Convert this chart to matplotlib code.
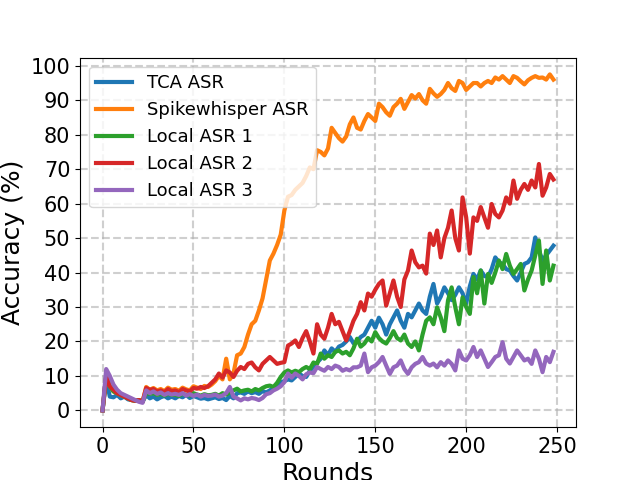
import numpy as np
import matplotlib
matplotlib.use('Agg')
import matplotlib.pyplot as plt

rounds = np.arange(0, 250, 2)

tca_asr = [
    0, 9, 4, 3.8, 4.5, 3.5, 4, 3.2, 3, 2.8,
    3, 2.5, 4.5, 3.5, 4, 3.2, 3.8, 4.2, 3.5, 4,
    3.5, 4.2, 3.8, 4.5, 3.6, 4.2, 3.8, 3.4, 3.6, 3.2,
    3.5, 3.8, 3.3, 3.6, 3, 4.2, 3.5, 5, 5.2, 4.8,
    5.5, 5, 5.3, 4.8, 5.6, 5.2, 5.8, 6.5, 7.5, 8.2,
    8.5, 9, 8.7, 9.7, 10.7, 10, 9.7, 11.5, 12.6, 13.9,
    15, 17.4, 16, 18, 17, 18.5, 19, 20, 21.3, 19.5,
    20, 21.3, 22, 24, 26, 24, 26.9, 25, 22, 25,
    27, 29, 26, 24, 28, 27, 29, 31, 29, 28,
    33, 36.7, 31, 33, 35.7, 34, 32, 33.5, 35.7, 34,
    31, 36, 39.6, 38, 40.6, 39, 38.7, 41, 44.4, 43,
    42.5, 41, 40.6, 39, 37.7, 40, 42.5, 43, 44.4, 50.2,
    46.4, 43.5, 45, 46.4, 47.8,
]

spike_asr = [
    0, 10, 7, 5.5, 5, 4.5, 4, 3.5, 3, 2.8,
    3, 2.5, 6.8, 6, 6.5, 5.8, 6.2, 5.6, 6.6, 6,
    6.2, 5.7, 6.6, 6.1, 5.8, 7, 6.6, 6.2, 7.1, 6.8,
    7.5, 8.5, 10, 9, 15, 9, 10.7, 16, 16.5, 18.4,
    22, 25, 26, 29, 32.5, 38, 43.5, 45.5, 48, 51,
    58, 62, 62.5, 64, 65, 66, 68, 70.5, 70, 75.5,
    75, 74, 76, 82, 80.5, 79, 78, 79.5, 83, 85,
    82, 81.5, 84, 86, 85, 84, 89, 88, 86.5, 85.5,
    88, 89, 90.4, 87.5, 89.5, 91.5, 90.5, 91.8, 90, 89,
    93.3, 92, 91, 91.8, 93, 95, 93.5, 92.7, 95.6, 95,
    93, 94, 95, 95, 94, 95, 95.6, 95, 96.6, 96,
    97, 96, 95, 97, 96.5, 95.5, 94.6, 95.8, 96.5, 97,
    96.5, 96.6, 96, 97.5, 96,
]

local_asr_1 = [
    0, 10, 7, 5.5, 5, 4.5, 4, 3.5, 3, 2.8,
    3, 2.5, 5, 4.8, 5, 4.5, 4.8, 4.3, 4.8, 4.5,
    4.5, 4.2, 4.8, 4.5, 4.3, 5, 4.6, 4.3, 4.7, 4.4,
    4.5, 4.8, 4.3, 5, 4.6, 5.2, 5.8, 6.3, 5.5, 5.8,
    6, 5.5, 6.2, 5.8, 6.5, 7, 7.2, 6.8, 8, 9.7,
    11, 11.6, 11, 11.5, 11.1, 12, 12.6, 12, 13.9, 13.5,
    16.5, 15, 16, 15.5, 17, 17.4, 16.5, 17, 16, 18,
    20.8, 18.5, 19.4, 21, 20, 22.7, 21, 20, 19.4, 21,
    23, 21, 20.3, 22, 19.4, 18.4, 20, 17.4, 22, 26,
    27, 25, 29.9, 27, 23, 31.9, 35.7, 30, 25, 32.8,
    30, 28, 38.7, 34, 40.6, 31, 39.6, 37, 40, 43.5,
    41, 45.4, 42, 39.6, 41, 42.5, 34.8, 38, 40.6, 45,
    49.3, 36.7, 46.4, 37.7, 42,
]

local_asr_2 = [
    0, 10, 7, 6, 5, 4.5, 4, 3.5, 3, 2.8,
    3, 2.5, 6.5, 6, 6.2, 5.5, 5.8, 5.3, 6.2, 5.6,
    5.8, 5.3, 6.2, 5.8, 5.5, 6.5, 6.3, 6.8, 6.5, 7,
    8, 9, 10.7, 9.5, 11.6, 11, 9.7, 11.5, 12.6, 12,
    13.5, 13.9, 12.5, 11.6, 13.5, 14.5, 15.5, 14.5, 13.5, 13.8,
    14, 18.8, 19.4, 20.3, 18.4, 21, 23, 20, 16.5, 25,
    22, 20.8, 24, 28, 25, 25.7, 23, 20.3, 23, 26,
    28, 31.4, 29, 33.9, 33, 35, 36.7, 37.7, 30.4, 34,
    37.7, 33, 30, 38, 40.6, 46.4, 43, 41.5, 42, 39.7,
    51.3, 48, 52.2, 44.4, 50, 53, 58, 50, 46.4, 61.8,
    56, 45.5, 56, 55, 59, 56, 53, 59.9, 57, 56,
    58, 61.8, 60, 66.7, 61.4, 64, 65.7, 64, 66.7, 64.7,
    71.5, 62.3, 64.7, 68.6, 67,
]

local_asr_3 = [
    0, 12, 10, 7.5, 6, 5, 4.5, 4, 3.5, 3,
    2.5, 2.2, 5.8, 5, 5.5, 4.8, 5.2, 4.5, 5, 4.6,
    4.8, 4.5, 5, 4.3, 4.7, 4.2, 4.6, 4, 4.5, 4.2,
    4.3, 4.6, 4, 4.3, 5, 6.8, 4, 3.5, 2.9, 3.5,
    3.2, 3.6, 3.4, 3, 3.6, 4.7, 5, 5.8, 6.3, 7,
    8.2, 10.7, 9.5, 10.7, 10, 9, 10.5, 11, 10.8, 12.6,
    12, 11.5, 12.6, 12, 13, 12.6, 11.5, 12, 11.6, 12.5,
    12.5, 13, 16.5, 11.1, 12.5, 13, 14, 15.5, 13, 10.6,
    12.5, 13, 14.5, 12, 10.6, 12.5, 13.5, 14, 15.5, 13.6,
    13, 13.6, 12.5, 14, 13, 14.5, 13.5, 11.6, 17.4, 15,
    14.5, 16, 18.4, 15.5, 17.4, 15, 12.6, 14, 15.5, 16,
    19.8, 15, 13.6, 15.5, 17.4, 16, 14.5, 15, 13.5, 17.4,
    15, 11.1, 15.5, 14, 17,
]

series = [
    ('TCA ASR', tca_asr),
    ('Spikewhisper ASR', spike_asr),
    ('Local ASR 1', local_asr_1),
    ('Local ASR 2', local_asr_2),
    ('Local ASR 3', local_asr_3),
]

fig, ax = plt.subplots(figsize=(6.4, 4.8), dpi=100)
for name, vals in series:
    ax.plot(rounds, vals, linewidth=3, label=name)

ax.set_xlabel('Rounds', fontsize=18)
ax.set_ylabel('Accuracy (%)', fontsize=18)
ax.set_xticks([0, 50, 100, 150, 200, 250])
ax.set_yticks(range(0, 101, 10))
ax.tick_params(labelsize=15)
ax.grid(True, linestyle='--', linewidth=1.5, alpha=0.6)
ax.legend(loc='upper left', fontsize=13)

plt.savefig('out.png')
